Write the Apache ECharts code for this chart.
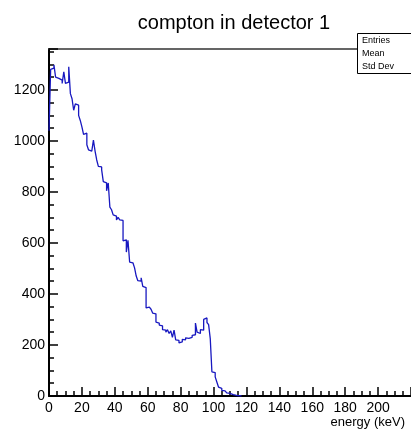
<!DOCTYPE html>
<html>
<head>
<meta charset="utf-8">
<script src="https://cdn.jsdelivr.net/npm/echarts@6/dist/echarts.min.js"></script>
<style>
  html, body { margin: 0; padding: 0; background: #fff; }
  #chart { width: 411px; height: 434px; }
</style>
</head>
<body>
<div id="chart"></div>
<script>
// bin left edges (keV), 1 keV wide
const binWidth = 1
// counts per bin
const counts = [
  1040, 1280, 1285, 1298, 1250, 1245, 1240, 1238, 1225, 1270,
  1225, 1230, 1290, 1185, 1165, 1120, 1145, 1140, 1100, 1080,
  1055, 1025, 1030, 985, 965, 960, 960, 1003, 960, 925,
  900, 898, 886, 840, 835, 804, 835, 740, 730, 710,
  705, 690, 700, 690, 688, 608, 612, 564, 610, 525,
  522, 520, 502, 470, 452, 450, 463, 430, 425, 345,
  348, 350, 340, 325, 322, 290, 286, 278, 275, 260,
  258, 250, 260, 245, 255, 230, 258, 220, 218, 208,
  212, 222, 220, 228, 226, 232, 230, 238, 240, 286,
  250, 245, 260, 258, 300, 306, 288, 280, 225, 95,
  92, 75, 55, 35, 30, 22, 20, 15, 12, 10,
  8, 5, 6, 2, 2, 1, 0
]
const statLabels = ['Entries', 'Mean', 'Std Dev']

const points = counts.map((c, i) => [i * binWidth, c])
points.push([counts.length * binWidth, 0])

const font = 'Liberation Sans'
const chart = echarts.init(document.getElementById('chart'))
chart.setOption({
  animation: false,
  title: {
    text: 'compton in detector 1',
    left: 229,
    top: 8,
    textAlign: 'center',
    textStyle: { fontFamily: font, fontSize: 20, fontWeight: 'normal', color: '#000' },
  },
  grid: { left: 49, top: 49, bottom: 38, right: -5 },
  xAxis: [
    {
      type: 'value',
      min: 0,
      max: 220,
      interval: 20,
      name: 'energy (keV)',
      nameLocation: 'end',
      nameGap: 0,
      nameTextStyle: {
        fontFamily: font, fontSize: 13, color: '#000',
        align: 'right', verticalAlign: 'top', padding: [20, 6, 0, 0],
      },
      axisLine: { lineStyle: { color: '#000', width: 2 } },
      axisTick: { inside: true, length: 9, lineStyle: { color: '#000', width: 1.5 } },
      minorTick: { show: true, splitNumber: 4, length: 5, lineStyle: { color: '#000', width: 1.5 } },
      axisLabel: {
        fontFamily: font, fontSize: 14, color: '#000', margin: 5,
        showMaxLabel: false,
        formatter: v => String(v),
      },
      splitLine: { show: false },
    },
    {
      type: 'value',
      position: 'top',
      min: 0,
      max: 220,
      axisLine: { show: true, onZero: false, lineStyle: { color: '#333', width: 1.5 } },
      axisTick: { show: false },
      axisLabel: { show: false },
      splitLine: { show: false },
    },
  ],
  yAxis: {
    type: 'value',
    min: 0,
    max: 1360,
    interval: 200,
    axisLine: { show: true, lineStyle: { color: '#000', width: 2 } },
    axisTick: { inside: true, length: 9, lineStyle: { color: '#000', width: 1.5 } },
    minorTick: { show: true, splitNumber: 4, length: 5, lineStyle: { color: '#000', width: 1.5 } },
    axisLabel: {
      fontFamily: font, fontSize: 14, color: '#000', margin: 4,
      showMaxLabel: false,
      formatter: v => String(v),
    },
    splitLine: { show: false },
  },
  series: [
    {
      type: 'line',
      xAxisIndex: 0,
      data: points,
      step: 'end',
      symbol: 'none',
      lineStyle: { color: '#1818c0', width: 1.3 },
      z: 1,
    },
  ],
  graphic: [
    {
      type: 'rect',
      shape: { x: 357.5, y: 33.5, width: 60, height: 40 },
      style: { fill: '#fff', stroke: '#000', lineWidth: 1 },
      z: 100,
    },
    ...statLabels.map((t, i) => ({
      type: 'text',
      left: 362,
      top: 36 + i * 13,
      style: { text: t, fontFamily: font, fontSize: 9, fill: '#000' },
      z: 101,
    })),
  ],
})
</script>
</body>
</html>
